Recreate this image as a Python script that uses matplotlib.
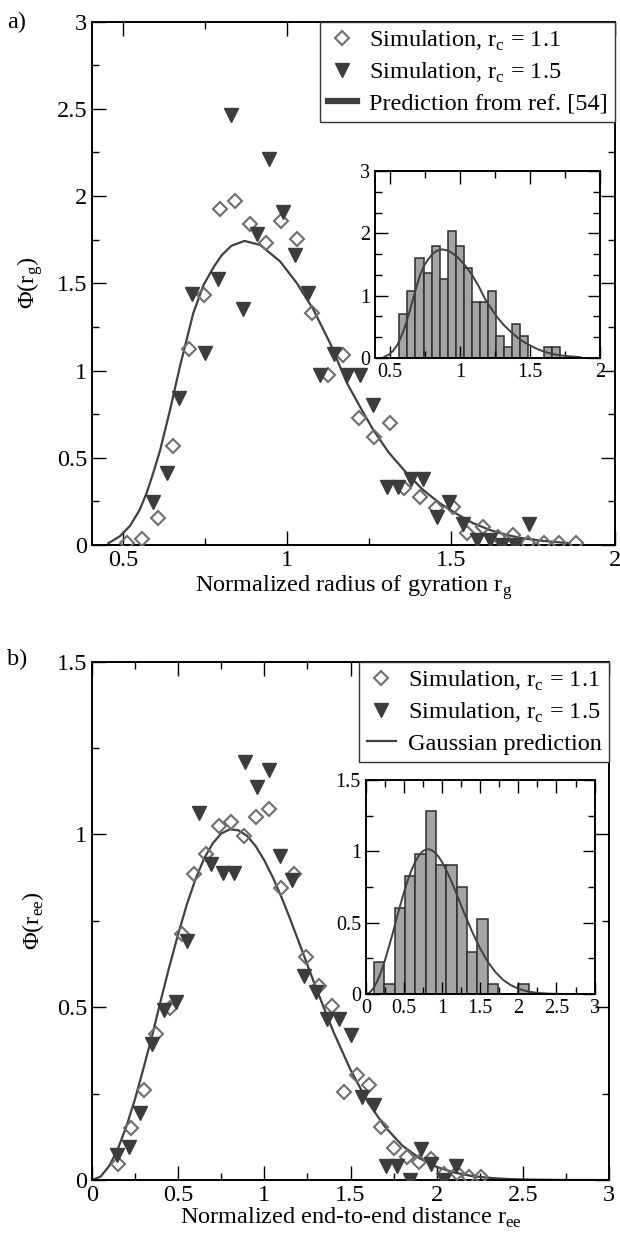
import matplotlib
matplotlib.use('Agg')
import matplotlib.pyplot as plt
import numpy as np
from matplotlib.ticker import MultipleLocator
from matplotlib.lines import Line2D

plt.rcParams['font.family'] = ['Liberation Serif', 'DejaVu Serif']
plt.rcParams['mathtext.fontset'] = 'custom'
plt.rcParams['mathtext.rm'] = 'Liberation Serif'

# ---- panel a) radius of gyration ----
rg_sim11_x = [0.511, 0.557, 0.605, 0.652, 0.700, 0.747, 0.794, 0.842, 0.887, 0.935,
              0.982, 1.030, 1.077, 1.126, 1.172, 1.218, 1.265, 1.314, 1.357, 1.405,
              1.454, 1.505, 1.550, 1.596, 1.643, 1.690, 1.735, 1.783, 1.830, 1.881]
rg_sim11_y = [0.01, 0.033, 0.157, 0.568, 1.122, 1.433, 1.925, 1.972, 1.839, 1.733,
              1.86, 1.753, 1.332, 0.975, 1.089, 0.726, 0.621, 0.70, 0.325, 0.277,
              0.21, 0.22, 0.07, 0.105, 0.044, 0.057, 0.013, 0.01, 0.01, 0.01]
rg_sim15_x = [0.592, 0.633, 0.671, 0.711, 0.750, 0.789, 0.828, 0.867, 0.908, 0.946,
              0.986, 1.024, 1.065, 1.100, 1.142, 1.182, 1.223, 1.263, 1.304, 1.339,
              1.377, 1.416, 1.457, 1.495, 1.536, 1.579, 1.618, 1.656, 1.694, 1.737]
rg_sim15_y = [0.246, 0.413, 0.845, 1.439, 1.099, 1.525, 2.466, 1.355, 1.785, 2.21,
              1.909, 1.661, 1.442, 0.973, 1.097, 0.973, 0.973, 0.802, 0.334, 0.334,
              0.376, 0.376, 0.163, 0.245, 0.12, 0.031, 0.031, 0.0, 0.0, 0.119]
rg_pred_x = [0.455, 0.49, 0.521, 0.55, 0.572, 0.593, 0.613, 0.643, 0.674, 0.714, 0.745, 0.775,
             0.80, 0.83, 0.87, 0.918, 0.979, 1.03, 1.08, 1.131, 1.182, 1.223,
             1.263, 1.31, 1.365, 1.415, 1.466, 1.52, 1.568, 1.62, 1.67, 1.72, 1.771, 1.86]
rg_pred_y = [0.01, 0.05, 0.11, 0.20, 0.30, 0.42, 0.545, 0.774, 1.03, 1.33, 1.49, 1.59,
             1.66, 1.715, 1.743, 1.72, 1.625, 1.50, 1.35, 1.157, 0.93, 0.79,
             0.659, 0.53, 0.411, 0.315, 0.239, 0.175, 0.124, 0.085, 0.057, 0.038, 0.025, 0.01]
rg_hist_start = 0.567
rg_hist_width = 0.0572
rg_hist = [0.71, 1.08, 1.61, 1.36, 1.80, 1.26, 2.03, 1.80, 1.44, 0.89,
           0.89, 1.08, 0.35, 0.18, 0.54, 0.35, 0.0, 0.0, 0.18, 0.18]

# ---- panel b) end-to-end distance ----
ree_sim11_x = [0.153, 0.225, 0.302, 0.372, 0.450, 0.521, 0.589, 0.663, 0.734, 0.808,
               0.880, 0.952, 1.025, 1.099, 1.171, 1.242, 1.316, 1.390, 1.461, 1.535,
               1.607, 1.678, 1.752, 1.826, 1.897, 1.969, 2.043, 2.116, 2.188, 2.260]
ree_sim11_y = [0.046, 0.15, 0.26, 0.423, 0.497, 0.712, 0.886, 0.944, 1.025, 1.035,
               0.997, 1.052, 1.073, 0.846, 0.885, 0.645, 0.561, 0.504, 0.256, 0.304,
               0.275, 0.154, 0.092, 0.068, 0.053, 0.06, 0.017, 0.021, 0.008, 0.01]
ree_sim15_x = [0.143, 0.215, 0.279, 0.347, 0.415, 0.486, 0.550, 0.622, 0.690, 0.758,
               0.822, 0.890, 0.957, 1.025, 1.093, 1.161, 1.229, 1.300, 1.365, 1.432,
               1.504, 1.568, 1.636, 1.703, 1.771, 1.843, 1.907, 1.969, 2.043, 2.110]
ree_sim15_y = [0.072, 0.096, 0.194, 0.394, 0.493, 0.515, 0.693, 1.063, 0.914, 0.889,
               0.889, 1.211, 1.138, 1.187, 0.937, 0.867, 0.591, 0.545, 0.465, 0.465,
               0.42, 0.24, 0.216, 0.042, 0.042, 0.0, 0.091, 0.047, 0.0, 0.042]
ree_pred_x = [0.0, 0.05, 0.1, 0.15, 0.2, 0.25, 0.3, 0.35, 0.4, 0.45, 0.5, 0.55, 0.6, 0.65,
              0.7, 0.75, 0.8, 0.85, 0.9, 0.95, 1.0, 1.05, 1.1, 1.15, 1.2, 1.3, 1.4, 1.5,
              1.6, 1.7, 1.8, 1.9, 2.0, 2.1, 2.2, 2.3, 2.4, 2.5, 2.7, 3.0]
ree_pred_y = [0.0, 0.01, 0.041, 0.09, 0.156, 0.235, 0.326, 0.42, 0.522, 0.62, 0.712, 0.797,
              0.87, 0.93, 0.974, 1.003, 1.015, 1.012, 0.996, 0.966, 0.925, 0.875, 0.818,
              0.755, 0.689, 0.556, 0.43, 0.319, 0.226, 0.154, 0.10, 0.063, 0.038, 0.022,
              0.012, 0.0065, 0.0034, 0.0017, 0.0004, 0.0]
ree_hist_start = 0.109
ree_hist_width = 0.1352
ree_hist = [0.222, 0.068, 0.60, 0.827, 0.979, 1.285, 0.904, 0.904, 0.752, 0.297,
            0.526, 0.068, 0.0, 0.0, 0.068]

dia_col = '#6e6e6e'
tri_col = '#3c3c3c'
line_col = '#404040'
fs = 17.5
fs_in = 14.5


def style_axes(ax, xmaj, xmin, ymaj, ymin, size, big):
    ax.xaxis.set_major_locator(MultipleLocator(xmaj))
    ax.xaxis.set_minor_locator(MultipleLocator(xmin))
    ax.yaxis.set_major_locator(MultipleLocator(ymaj))
    ax.yaxis.set_minor_locator(MultipleLocator(ymin))
    ax.tick_params(which='both', direction='in', top=True, right=True,
                   labelsize=size, width=1)
    ax.tick_params(which='major', length=10 if big else 9)
    ax.tick_params(which='minor', length=5)
    for s in ax.spines.values():
        s.set_linewidth(1.4)
    ax.xaxis.set_major_formatter(plt.FuncFormatter(lambda v, p: '%g' % v))
    ax.yaxis.set_major_formatter(plt.FuncFormatter(lambda v, p: '%g' % v))


def add_legend(ax, handles, labels):
    leg = ax.legend(handles, labels, loc='upper right', fontsize=fs, frameon=True,
                    fancybox=False, edgecolor='#333333', framealpha=1, borderaxespad=0,
                    handlelength=1.2, handletextpad=0.5, labelspacing=0.32,
                    borderpad=0.3)
    leg.get_frame().set_linewidth(1.0)
    return leg


fig = plt.figure(figsize=(6.2, 12.38), dpi=100)

# panel a
ax1 = fig.add_axes([0.1484, 0.5598, 0.8435, 0.4227])
ax1.plot(rg_pred_x, rg_pred_y, color=line_col, lw=1.6, zorder=2)
ax1.plot(rg_sim11_x, rg_sim11_y, ls='none', marker='D', ms=6.8, mfc='none',
         mec=dia_col, mew=1.5, zorder=3)
ax1.plot(rg_sim15_x, rg_sim15_y, ls='none', marker='v', ms=10, color=tri_col, zorder=3)
ax1.set_xlim(0.405, 2)
ax1.set_ylim(0, 3)
style_axes(ax1, 0.5, 0.25, 0.5, 0.25, fs, True)
ax1.set_xlabel('Normalized radius of gyration r$_\\mathregular{g}$', fontsize=fs, labelpad=2)
ax1.set_ylabel('\u03a6(r$_\\mathregular{g}$)', fontsize=fs, labelpad=8)
h1 = [Line2D([], [], ls='none', marker='D', ms=6.8, mfc='none', mec=dia_col, mew=1.5),
      Line2D([], [], ls='none', marker='v', ms=10, color=tri_col),
      Line2D([], [], color=line_col, lw=4.5)]
add_legend(ax1, h1, ['Simulation, r$_\\mathregular{c}$ = 1.1',
                     'Simulation, r$_\\mathregular{c}$ = 1.5',
                     'Prediction from ref. [54]'])
fig.text(0.012, 0.982, 'a)', fontsize=fs, va='center')

ins1 = fig.add_axes([0.605, 0.711, 0.363, 0.1508])
ins1.bar(rg_hist_start + rg_hist_width * np.arange(len(rg_hist)), rg_hist,
         width=rg_hist_width, align='edge', color='#a4a4a4', edgecolor='#2e2e2e', lw=1.1)
ins1.plot(rg_pred_x, rg_pred_y, color=line_col, lw=1.4)
ins1.set_xlim(0.393, 2)
ins1.set_ylim(0, 3)
style_axes(ins1, 0.5, 0.25, 1, 1 / 3, fs_in, False)

# panel b
ax2 = fig.add_axes([0.1484, 0.0468, 0.8339, 0.4187])
ax2.plot(ree_pred_x, ree_pred_y, color=line_col, lw=1.6, zorder=2)
ax2.plot(ree_sim11_x, ree_sim11_y, ls='none', marker='D', ms=6.8, mfc='none',
         mec=dia_col, mew=1.5, zorder=3)
ax2.plot(ree_sim15_x, ree_sim15_y, ls='none', marker='v', ms=10, color=tri_col, zorder=3)
ax2.set_xlim(0, 3)
ax2.set_ylim(0, 1.5)
style_axes(ax2, 0.5, 0.25, 0.5, 0.25, fs, True)
ax2.set_xlabel('Normalized end-to-end distance r$_\\mathregular{ee}$', fontsize=fs, labelpad=0)
ax2.set_ylabel('\u03a6(r$_\\mathregular{ee}$)', fontsize=fs, labelpad=8)
h2 = [Line2D([], [], ls='none', marker='D', ms=6.8, mfc='none', mec=dia_col, mew=1.5),
      Line2D([], [], ls='none', marker='v', ms=10, color=tri_col),
      Line2D([], [], color=line_col, lw=1.6)]
add_legend(ax2, h2, ['Simulation, r$_\\mathregular{c}$ = 1.1',
                     'Simulation, r$_\\mathregular{c}$ = 1.5',
                     'Gaussian prediction'])
fig.text(0.012, 0.467, 'b)', fontsize=fs, va='center')

ins2 = fig.add_axes([0.590, 0.197, 0.369, 0.1729])
ins2.bar(ree_hist_start + ree_hist_width * np.arange(len(ree_hist)), ree_hist,
         width=ree_hist_width, align='edge', color='#a4a4a4', edgecolor='#2e2e2e', lw=1.1)
ins2.plot(ree_pred_x, ree_pred_y, color=line_col, lw=1.4)
ins2.set_xlim(0, 3)
ins2.set_ylim(0, 1.5)
style_axes(ins2, 0.5, 0.25, 0.5, 0.25, fs_in, False)

fig.savefig('out.png', dpi=100)
